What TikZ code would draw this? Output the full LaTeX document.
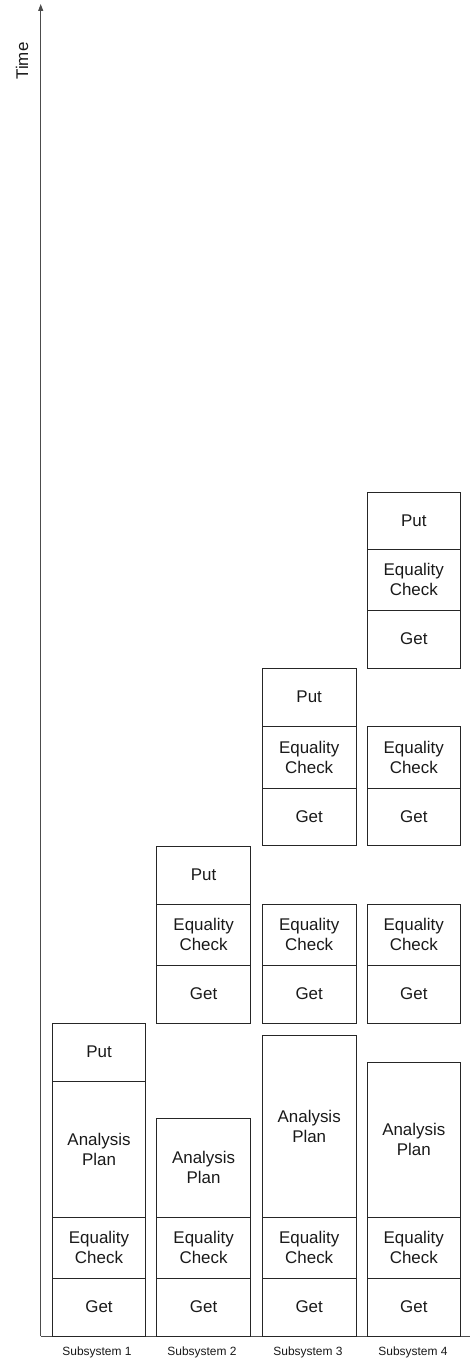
\documentclass[tikz,border=0pt]{standalone}
\usepackage{fontspec}
\setmainfont{Liberation Sans}
\usetikzlibrary{arrows.meta}

% A stacked stage cell: name, x centre, top y, bottom y, text
\newcommand\stagecell[5]{%
  \node[cellbox, minimum height={(#4-#3)*1bp}] (#1) at (#2,{(#3+#4)/2}) {#5};}

\tikzset{
  cellbox/.style={draw=black!85, line width=0.9bp, minimum width=93.5bp,
    inner sep=0pt, align=center, text=black!90,
    font=\fontsize{17}{20}\selectfont},
  axisline/.style={draw=black!70, line width=0.9bp},
  sublabel/.style={text=black!90, font=\fontsize{12}{14}\selectfont},
}

\begin{document}
\begin{tikzpicture}[x=1bp, y=-1bp]
\useasboundingbox (0,0) rectangle (470,1364);

% axes
\coordinate (origin) at (40.7,1336);
\coordinate (ytop) at (40.7,4);
\coordinate (xend) at (470,1336);
\draw[axisline, -{Triangle[length=7bp, width=5bp]}] (origin) -- (ytop);
\draw[axisline] (origin) -- (xend);
\node[rotate=90, text=black!90, font=\fontsize{17}{20}\selectfont] (timelabel) at (22,61) {Time};

% subsystem 1
\stagecell{put1}{99}{1023}{1081}{Put}
\stagecell{ap1}{99}{1081}{1217}{Analysis\\Plan}
\stagecell{eq1}{99}{1217}{1278}{Equality\\Check}
\stagecell{get1}{99}{1278}{1336}{Get}

% subsystem 2
\stagecell{ap2}{203.6}{1118}{1217}{Analysis\\Plan}
\stagecell{eq2}{203.6}{1217}{1278}{Equality\\Check}
\stagecell{get2}{203.6}{1278}{1336}{Get}
\stagecell{put2b}{203.6}{846}{904}{Put}
\stagecell{eq2b}{203.6}{904}{965}{Equality\\Check}
\stagecell{get2b}{203.6}{965}{1023}{Get}

% subsystem 3
\stagecell{ap3}{309.2}{1035}{1217}{Analysis\\Plan}
\stagecell{eq3}{309.2}{1217}{1278}{Equality\\Check}
\stagecell{get3}{309.2}{1278}{1336}{Get}
\stagecell{eq3b}{309.2}{904}{965}{Equality\\Check}
\stagecell{get3b}{309.2}{965}{1023}{Get}
\stagecell{put3c}{309.2}{668}{726}{Put}
\stagecell{eq3c}{309.2}{726}{788}{Equality\\Check}
\stagecell{get3c}{309.2}{788}{845}{Get}

% subsystem 4
\stagecell{ap4}{413.8}{1062}{1217}{Analysis\\Plan}
\stagecell{eq4}{413.8}{1217}{1278}{Equality\\Check}
\stagecell{get4}{413.8}{1278}{1336}{Get}
\stagecell{eq4b}{413.8}{904}{965}{Equality\\Check}
\stagecell{get4b}{413.8}{965}{1023}{Get}
\stagecell{eq4c}{413.8}{726}{788}{Equality\\Check}
\stagecell{get4c}{413.8}{788}{845}{Get}
\stagecell{put4d}{413.8}{492}{549}{Put}
\stagecell{eq4d}{413.8}{549}{610}{Equality\\Check}
\stagecell{get4d}{413.8}{610}{668}{Get}

% column labels
\node[sublabel] (sub1) at (97,1352) {Subsystem 1};
\node[sublabel] (sub2) at (202,1352) {Subsystem 2};
\node[sublabel] (sub3) at (308,1352) {Subsystem 3};
\node[sublabel] (sub4) at (413,1352) {Subsystem 4};
\end{tikzpicture}
\end{document}
